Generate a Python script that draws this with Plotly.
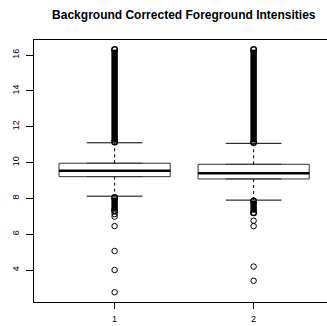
import plotly.graph_objects as go

groups = [1, 2]
tick_labels = ["1", "2"]
q1 = [9.21, 9.08]
median = [9.54, 9.40]
q3 = [9.96, 9.90]
lower_whisker = [8.12, 7.90]
upper_whisker = [11.10, 11.07]
# dense outlier bands (thousands of points, drawn as solid bands): [start, end]
upper_dense = [[11.15, 16.30], [11.12, 16.30]]
lower_dense = [[8.05, 7.30], [7.85, 7.20]]
# individually visible outliers
outliers = [
    [7.12, 6.98, 6.45, 5.06, 4.00, 2.76],
    [6.75, 6.45, 4.19, 3.40],
]

BOXW = 0.8
CAPW = 0.4
fig = go.Figure()

for i, g in enumerate(groups):
    fig.add_trace(go.Box(
        x=[g], q1=[q1[i]], median=[median[i]], q3=[q3[i]],
        lowerfence=[q1[i]], upperfence=[q3[i]],
        width=BOXW, fillcolor="white", line=dict(color="#333333", width=1),
        boxpoints=False, showlegend=False, hoverinfo="skip"))
    # median (thick)
    fig.add_trace(go.Scatter(x=[g - BOXW / 2, g + BOXW / 2], y=[median[i], median[i]],
                             mode="lines", line=dict(color="black", width=2.5),
                             showlegend=False, hoverinfo="skip"))
    # dashed whiskers
    fig.add_trace(go.Scatter(x=[g, g, None, g, g],
                             y=[q3[i], upper_whisker[i], None, q1[i], lower_whisker[i]],
                             mode="lines", line=dict(color="black", width=1, dash="3px,3px"),
                             showlegend=False, hoverinfo="skip"))
    # caps
    fig.add_trace(go.Scatter(x=[g - CAPW / 2, g + CAPW / 2, None, g - CAPW / 2, g + CAPW / 2],
                             y=[upper_whisker[i], upper_whisker[i], None, lower_whisker[i], lower_whisker[i]],
                             mode="lines", line=dict(color="black", width=1),
                             showlegend=False, hoverinfo="skip"))
    # dense outlier bands
    for band in (upper_dense[i], lower_dense[i]):
        fig.add_trace(go.Scatter(x=[g, g], y=band, mode="lines+markers",
                                 line=dict(color="black", width=6.5),
                                 marker=dict(symbol="circle-open", size=5.5, color="black",
                                             line=dict(width=1.5, color="black")),
                                 showlegend=False, hoverinfo="skip"))
    # individual outliers
    fig.add_trace(go.Scatter(x=[g] * len(outliers[i]), y=outliers[i], mode="markers",
                             marker=dict(symbol="circle-open", size=5.5, color="black",
                                         line=dict(width=1, color="black")),
                             showlegend=False, hoverinfo="skip"))

fig.update_layout(
    width=327, height=326,
    margin=dict(l=34, r=0, t=40, b=24, autoexpand=False),
    plot_bgcolor="white", paper_bgcolor="white",
    font=dict(family="Liberation Sans, Arial, sans-serif", color="black", size=9),
    title=dict(text="<b>Background Corrected Foreground Intensities</b>",
               x=183.8 / 327, xref="container", xanchor="center",
               y=1 - 14.5 / 326, yref="container", yanchor="middle",
               font=dict(size=12, color="black")),
    xaxis=dict(range=[0.42, 0.42 + 293 / 139], tickvals=groups, ticktext=tick_labels,
               showgrid=False, zeroline=False, showline=True, linecolor="black", linewidth=1,
               mirror=True, ticks="outside", ticklen=6, tickcolor="black", automargin=False,
               ticklabelstandoff=2, tickfont=dict(size=9)),
    yaxis=dict(range=[2.214, 16.837], tickvals=[4, 6, 8, 10, 12, 14, 16],
               showgrid=False, zeroline=False, showline=True, linecolor="black", linewidth=1,
               ticks="outside", ticklen=7, tickcolor="black", tickangle=-90, automargin=False,
               ticklabelstandoff=3, tickfont=dict(size=9)),
)

fig.write_html("out.html", config={"displayModeBar": False},
               post_script="document.body.style.margin='0';document.body.style.overflow='hidden';")
